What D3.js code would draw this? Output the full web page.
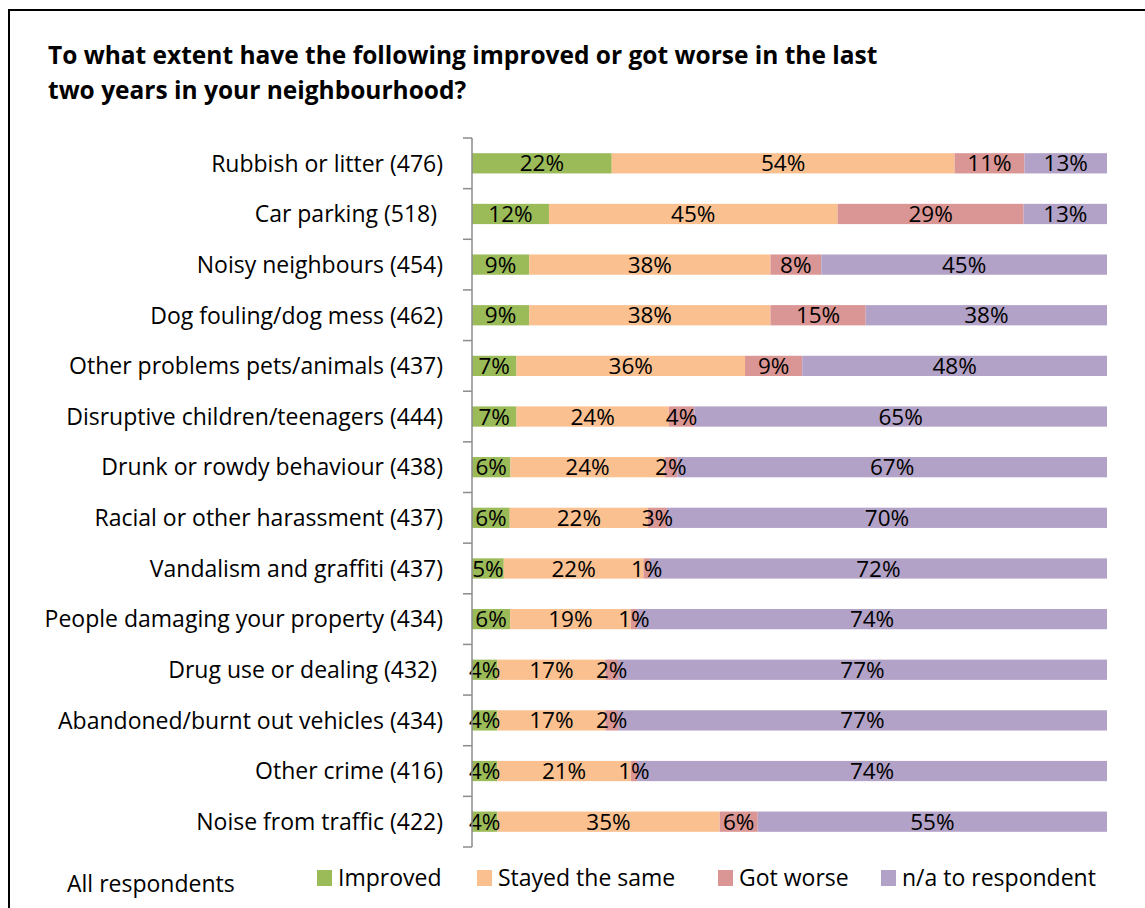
<!DOCTYPE html>
<html>
<head>
<meta charset="utf-8">
<script src="https://cdn.jsdelivr.net/npm/d3@7"></script>
<style>
  html, body { margin: 0; padding: 0; background: #fff; }
  svg text { font-family: "Open Sans", sans-serif; font-variant-ligatures: none; }
</style>
</head>
<body>
<svg id="chart" width="1145" height="908"></svg>
<script>
// Survey items (with number of respondents) and response shares in %
const categories = [
  "Rubbish or litter (476)",
  "Car parking (518) ",
  "Noisy neighbours (454)",
  "Dog fouling/dog mess (462)",
  "Other problems pets/animals (437)",
  "Disruptive children/teenagers (444)",
  "Drunk or rowdy behaviour (438)",
  "Racial or other harassment (437)",
  "Vandalism and graffiti (437)",
  "People damaging your property (434)",
  "Drug use or dealing (432) ",
  "Abandoned/burnt out vehicles (434)",
  "Other crime (416)",
  "Noise from traffic (422)"
];
const improved   = [22, 12, 9, 9, 7, 7, 6, 6, 5, 6, 4, 4, 4, 4];
const stayedSame = [54, 45, 38, 38, 36, 24, 24, 22, 22, 19, 17, 17, 21, 35];
const gotWorse   = [11, 29, 8, 15, 9, 4, 2, 3, 1, 1, 2, 2, 1, 6];
const notApplicable = [13, 13, 45, 38, 48, 65, 67, 70, 72, 74, 77, 77, 74, 55];

const seriesNames = ["Improved", "Stayed the same", "Got worse", "n/a to respondent"];
const seriesColors = ["#9BBB59", "#FAC090", "#D99694", "#B3A2C7"];

const rows = categories.map((c, i) => ({
  category: c,
  "Improved": improved[i],
  "Stayed the same": stayedSame[i],
  "Got worse": gotWorse[i],
  "n/a to respondent": notApplicable[i]
}));

const svg = d3.select("#chart");

// Outer frame (left and top edges visible)
svg.append("path")
  .attr("d", "M9,908V10H1145")
  .attr("fill", "none")
  .attr("stroke", "#000")
  .attr("stroke-width", 2);

// Title
const title = svg.append("text")
  .attr("font-size", 24.5)
  .attr("font-weight", "bold")
  .attr("fill", "#000");
title.append("tspan").attr("x", 48).attr("y", 64)
  .text("To what extent have the following improved or got worse in the last");
title.append("tspan").attr("x", 48).attr("y", 99)
  .text("two years in your neighbourhood?");

// Scales
const x = d3.scaleLinear().domain([0, 1]).range([472, 1107]);
const y = d3.scaleBand().domain(categories).range([138, 847]).paddingInner(0.6).paddingOuter(0.3);

// Normalised stack: each bar spans 100%
const stack = d3.stack().keys(seriesNames).offset(d3.stackOffsetExpand);
const stacked = stack(rows);

const color = d3.scaleOrdinal().domain(seriesNames).range(seriesColors);

const segments = stacked.flatMap(layer => layer.map(s => ({ s, key: layer.key })));

svg.append("g").selectAll("rect")
  .data(segments)
  .join("rect")
  .attr("fill", d => color(d.key))
  .attr("x", d => x(d.s[0]))
  .attr("y", d => y(d.s.data.category))
  .attr("width", d => x(d.s[1]) - x(d.s[0]))
  .attr("height", y.bandwidth());

// Value labels, drawn above all segments
svg.append("g").selectAll("text")
  .data(segments)
  .join("text")
  .attr("x", d => (x(d.s[0]) + x(d.s[1])) / 2)
  .attr("y", d => y(d.s.data.category) + y.bandwidth() / 2)
  .attr("dy", "0.36em")
  .attr("text-anchor", "middle")
  .attr("font-size", 22.5)
  .attr("fill", "#000")
  .text(d => d.s.data[d.key] + "%");

// Category axis with ticks between bands
const axisX = 472;
const axisG = svg.append("g");
const [y0, y1] = y.range();
const bandEdges = d3.range(categories.length + 1).map(i => y0 + i * (y1 - y0) / categories.length);
axisG.append("line")
  .attr("x1", axisX).attr("x2", axisX)
  .attr("y1", y0).attr("y2", y1)
  .attr("stroke", "#8c8c8c").attr("stroke-width", 1.5);
axisG.selectAll("line.tick")
  .data(bandEdges)
  .join("line")
  .attr("class", "tick")
  .attr("x1", axisX - 9).attr("x2", axisX)
  .attr("y1", d => d).attr("y2", d => d)
  .attr("stroke", "#8c8c8c").attr("stroke-width", 1.5);

axisG.selectAll("text")
  .data(categories)
  .join("text")
  .attr("x", 443)
  .attr("y", d => y(d) + y.bandwidth() / 2)
  .attr("dy", "0.36em")
  .attr("text-anchor", "end")
  .attr("font-size", 23)
  .attr("fill", "#000")
  .style("white-space", "pre")
  .text(d => d);

// Footer note
svg.append("text")
  .attr("x", 67).attr("y", 892)
  .attr("font-size", 23)
  .attr("fill", "#000")
  .text("All respondents");

// Legend
const legendX = [317, 477, 718, 881];
const legend = svg.append("g").selectAll("g")
  .data(seriesNames)
  .join("g")
  .attr("transform", (d, i) => `translate(${legendX[i]},870)`);
legend.append("rect")
  .attr("width", 15).attr("height", 16)
  .attr("fill", d => color(d));
legend.append("text")
  .attr("x", 21).attr("y", 16)
  .attr("font-size", 23)
  .attr("fill", "#000")
  .text(d => d);
</script>
</body>
</html>
